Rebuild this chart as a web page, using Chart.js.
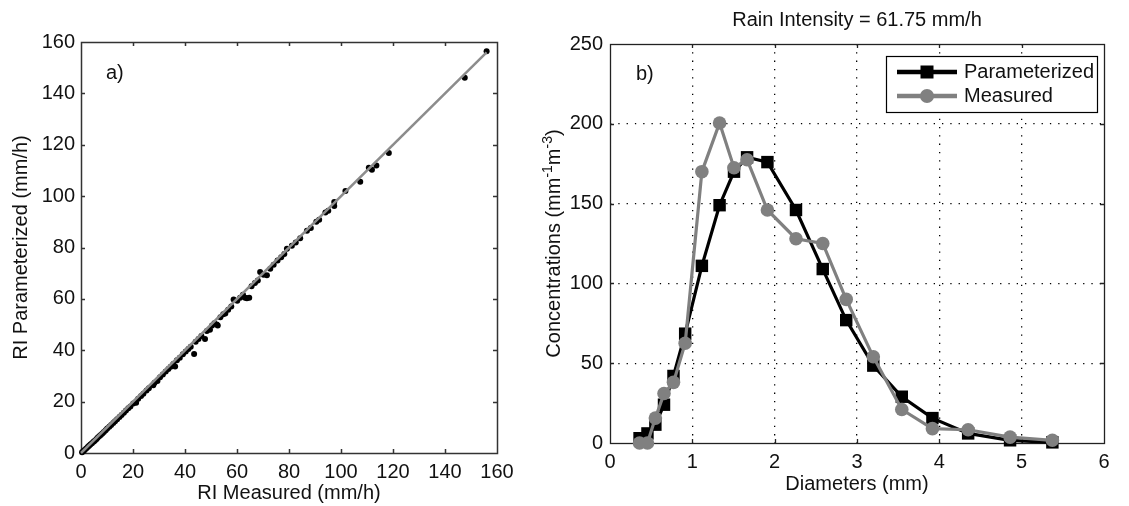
<!DOCTYPE html>
<html>
<head>
<meta charset="utf-8">
<script src="https://cdn.jsdelivr.net/npm/chart.js@4.4.1/dist/chart.umd.min.js"></script>
<style>
  html, body { margin: 0; padding: 0; background: #fff; overflow: hidden; }
  #wrap { position: relative; width: 1129px; height: 506px; }
  canvas { position: absolute; top: 0; }
  #panelA { left: 0; }
  #panelB { left: 530px; }
</style>
</head>
<body>
<div id="wrap">
  <canvas id="panelA" width="530" height="506"></canvas>
  <canvas id="panelB" width="599" height="506"></canvas>
</div>
<script>
// ---- Panel a: rain intensity, measured vs parameterized (mm/h) ----
const riMeasured = [
  0.4, 0.9, 1.4, 2.0, 2.6, 3.1, 3.6, 4.2, 4.8, 5.3, 5.9, 6.4, 7.0, 7.6, 8.2, 8.8,
  9.5, 10.1, 10.9, 11.6, 12.4, 13.1, 13.9, 14.8, 15.6, 16.5, 17.3, 18.2, 19.0, 20.1,
  21.2, 22.0, 23.1, 24.0, 25.2, 26.1, 27.8, 28.3, 29.4, 30.4, 31.5, 32.6, 33.6, 34.5,
  35.5, 36.2, 36.9, 38.0, 39.2, 40.3, 41.3, 42.2, 43.5, 44.1, 45.2, 46.3, 47.7, 48.4,
  49.6, 50.4, 51.3, 52.2, 52.6, 53.6, 54.7, 55.5, 56.6, 57.8, 58.7, 60.1, 61.2, 62.3,
  63.1, 63.8, 64.7, 65.6, 66.9, 68.0, 68.9, 70.2, 71.5, 72.8, 74.1, 75.6, 77.0, 78.2,
  79.2, 81.1, 82.6, 84.3, 86.9, 88.4, 90.5, 91.6, 94.0, 95.1, 97.4, 97.4, 101.7, 107.4,
  110.7, 111.9, 113.6, 118.4, 147.6, 156.0
];
const riParameterized = [
  0.3, 0.7, 1.2, 1.8, 2.3, 2.8, 3.3, 3.8, 4.4, 4.8, 5.4, 5.9, 6.5, 7.0, 7.6, 8.2,
  8.9, 9.5, 10.2, 10.9, 11.7, 12.4, 13.1, 14.0, 14.8, 15.7, 16.5, 17.4, 18.1, 19.3,
  19.6, 21.1, 22.2, 23.1, 24.3, 25.2, 26.4, 27.3, 28.0, 29.5, 30.6, 31.7, 32.7, 33.6,
  34.6, 33.7, 36.1, 37.1, 38.4, 39.5, 40.5, 41.4, 38.5, 43.3, 44.4, 45.5, 44.4, 47.5,
  48.0, 49.6, 50.5, 50.0, 49.6, 52.8, 54.0, 54.3, 55.8, 57.0, 59.8, 59.3, 60.4, 61.6,
  60.4, 60.2, 60.4, 64.9, 66.2, 67.2, 70.5, 69.4, 69.2, 71.7, 73.3, 74.9, 76.2, 77.5,
  79.5, 80.7, 81.9, 83.6, 86.5, 87.6, 90.0, 90.8, 93.6, 94.3, 96.2, 97.7, 102.0, 105.6,
  111.0, 110.3, 111.9, 116.8, 146.1, 156.4
];
// 1:1 reference line end points
const oneToOne = [0, 156];
const riTicks = [0, 20, 40, 60, 80, 100, 120, 140, 160];

// ---- Panel b: drop size distribution (Joss-Waldvogel classes) ----
const diameters = [0.359, 0.455, 0.551, 0.656, 0.771, 0.913, 1.116, 1.331, 1.506, 1.665,
                   1.912, 2.259, 2.584, 2.869, 3.198, 3.544, 3.916, 4.350, 4.859, 5.373];
const concParameterized = [3, 6, 11.5, 24, 42, 68.5, 111, 149, 170, 179,
                           176, 146, 109, 77, 48.5, 29, 15.6, 6, 1.7, 0.4];
const concMeasured = [0, 0, 15.6, 31, 38, 62.5, 170, 200.5, 172.5, 177.5,
                      146, 128, 125, 90, 54, 21, 9, 8.3, 3.7, 1.7];
const diameterTicks = [0, 1, 2, 3, 4, 5, 6];
const concTicks = [0, 50, 100, 150, 200, 250];
const rainIntensity = 61.75;

const FONT = "'Liberation Sans', Arial, Helvetica, sans-serif";
Chart.defaults.font.family = FONT;
Chart.defaults.font.size = 20;
Chart.defaults.color = '#111';
Chart.defaults.animation = false;

const toPoints = (xs, ys) => xs.map((v, i) => ({ x: v, y: ys[i] }));
const first = arr => arr[0];
const last = arr => arr[arr.length - 1];

// Axes box with inward tick marks on all four sides
const framePlugin = {
  id: 'frame',
  beforeDatasetsDraw(chart, args, o) {
    const { ctx, chartArea: a, scales: { x, y } } = chart;
    ctx.save();
    ctx.strokeStyle = o.color || '#333';
    ctx.lineWidth = o.width || 1.5;
    ctx.beginPath();
    x.ticks.forEach(t => {
      const px = Math.round(x.getPixelForValue(t.value)) + 0.5;
      if (t.value === x.min || t.value === x.max) return;
      ctx.moveTo(px, a.bottom); ctx.lineTo(px, a.bottom - o.len);
      ctx.moveTo(px, a.top); ctx.lineTo(px, a.top + o.len);
    });
    y.ticks.forEach(t => {
      const py = Math.round(y.getPixelForValue(t.value)) + 0.5;
      if (t.value === y.min || t.value === y.max) return;
      ctx.moveTo(a.left, py); ctx.lineTo(a.left + o.len, py);
      ctx.moveTo(a.right, py); ctx.lineTo(a.right - o.len, py);
    });
    ctx.stroke();
    ctx.strokeRect(Math.round(a.left) + 0.5, Math.round(a.top) + 0.5,
                   Math.round(a.right - a.left), Math.round(a.bottom - a.top));
    ctx.restore();
  }
};

// Panel letter, title, legend and superscripted axis title
const annotatePlugin = {
  id: 'annotate',
  afterDraw(chart, args, o) {
    const { ctx, chartArea: a } = chart;
    ctx.save();
    ctx.fillStyle = '#111';
    ctx.font = '20px ' + FONT;
    ctx.textBaseline = 'middle';
    if (o.panel) {
      ctx.textAlign = 'left';
      ctx.fillText(o.panel, a.left + o.panelDx, a.top + o.panelDy);
    }
    if (o.title) {
      ctx.textAlign = 'center';
      ctx.fillText(o.title, (a.left + a.right) / 2, o.titleY);
    }
    if (o.yTitleParts) {
      ctx.save();
      ctx.translate(o.yTitleX, (a.top + a.bottom) / 2);
      ctx.rotate(-Math.PI / 2);
      ctx.textAlign = 'left';
      ctx.textBaseline = 'alphabetic';
      let total = 0;
      o.yTitleParts.forEach(p => { ctx.font = p.size + 'px ' + FONT; total += ctx.measureText(p.text).width; });
      let cx = -total / 2;
      o.yTitleParts.forEach(p => {
        ctx.font = p.size + 'px ' + FONT;
        ctx.fillText(p.text, cx, 7 + p.rise);
        cx += ctx.measureText(p.text).width;
      });
      ctx.restore();
    }
    if (o.legend) {
      const L = o.legend;
      ctx.strokeStyle = '#000';
      ctx.lineWidth = 1.2;
      ctx.fillStyle = '#fff';
      ctx.fillRect(L.left, L.top, L.width, L.height);
      ctx.strokeRect(L.left + 0.5, L.top + 0.5, L.width, L.height);
      chart.data.datasets.forEach((ds, i) => {
        const yy = L.top + L.rowFirst + i * L.rowGap;
        ctx.strokeStyle = ds.borderColor;
        ctx.lineWidth = 4.5;
        ctx.beginPath();
        ctx.moveTo(L.left + L.lineStart, yy);
        ctx.lineTo(L.left + L.lineEnd, yy);
        ctx.stroke();
        const mx = L.left + (L.lineStart + L.lineEnd) / 2;
        ctx.fillStyle = ds.backgroundColor;
        if (ds.pointStyle === 'rect') {
          ctx.fillRect(mx - 6.5, yy - 6.5, 13, 13);
        } else {
          ctx.beginPath(); ctx.arc(mx, yy, 7, 0, Math.PI * 2); ctx.fill();
        }
        ctx.fillStyle = '#111';
        ctx.font = '20px ' + FONT;
        ctx.textAlign = 'left';
        ctx.textBaseline = 'middle';
        ctx.fillText(ds.label, L.left + L.textX, yy);
      });
    }
    ctx.restore();
  }
};

// ---------- Panel a ----------
new Chart(document.getElementById('panelA'), {
  type: 'scatter',
  data: {
    datasets: [
      {
        label: '1:1',
        data: toPoints(oneToOne, oneToOne),
        showLine: true,
        borderColor: '#8c8c8c',
        borderWidth: 2.5,
        pointRadius: 0,
        clip: false,
        order: 1
      },
      {
        label: 'RI',
        data: toPoints(riMeasured, riParameterized),
        backgroundColor: '#000',
        borderColor: '#000',
        pointRadius: 3,
        pointBorderWidth: 0,
        clip: false,
        order: 2
      }
    ]
  },
  options: {
    responsive: false,
    devicePixelRatio: 1,
    animation: false,
    events: [],
    layout: { padding: { top: 42, right: 33, left: 0, bottom: 0 } },
    plugins: {
      legend: { display: false },
      tooltip: { enabled: false },
      frame: { len: 4, color: '#333', width: 1.5 },
      annotate: { panel: 'a)', panelDx: 25, panelDy: 31 }
    },
    scales: {
      x: {
        type: 'linear', min: first(riTicks), max: last(riTicks),
        ticks: { stepSize: riTicks[1] - riTicks[0], autoSkip: false, maxRotation: 0, padding: 7 },
        grid: { display: false, drawTicks: false },
        border: { display: false },
        title: { display: true, text: 'RI Measured (mm/h)', padding: { top: 0, bottom: 1 } },
        afterFit: s => { s.height = 53; }
      },
      y: {
        type: 'linear', min: first(riTicks), max: last(riTicks),
        ticks: { stepSize: riTicks[1] - riTicks[0], autoSkip: false, padding: 6 },
        grid: { display: false, drawTicks: false },
        border: { display: false },
        title: { display: true, text: 'RI Parameterized (mm/h)', padding: { top: 9, bottom: 0 } },
        afterFit: s => { s.width = 81; }
      }
    }
  },
  plugins: [framePlugin, annotatePlugin]
});

// ---------- Panel b ----------
const dottedGrid = (lo, hi) => c =>
  (c.tick && (c.tick.value === lo || c.tick.value === hi)) ? 'rgba(0,0,0,0)' : '#000';

new Chart(document.getElementById('panelB'), {
  type: 'line',
  data: {
    datasets: [
      {
        label: 'Parameterized',
        data: toPoints(diameters, concParameterized),
        borderColor: '#000',
        backgroundColor: '#000',
        borderWidth: 3.2,
        pointStyle: 'rect',
        pointRadius: 8.8,
        pointBorderWidth: 0,
        tension: 0,
        clip: false,
        order: 2
      },
      {
        label: 'Measured',
        data: toPoints(diameters, concMeasured),
        borderColor: '#808080',
        backgroundColor: '#808080',
        borderWidth: 3.2,
        pointStyle: 'circle',
        pointRadius: 6.8,
        pointBorderWidth: 0,
        tension: 0,
        clip: false,
        order: 1
      }
    ]
  },
  options: {
    responsive: false,
    devicePixelRatio: 1,
    animation: false,
    events: [],
    layout: { padding: { top: 44, right: 25, left: 0, bottom: 0 } },
    plugins: {
      legend: { display: false },
      tooltip: { enabled: false },
      frame: { len: 4, color: '#222', width: 1.3 },
      annotate: {
        panel: 'b)', panelDx: 26, panelDy: 30,
        title: 'Rain Intensity = ' + rainIntensity.toFixed(2) + ' mm/h',
        titleY: 20,
        yTitleX: 23,
        yTitleParts: [
          { text: 'Concentrations (mm', size: 20, rise: 0 },
          { text: '-1', size: 14, rise: -8 },
          { text: 'm', size: 20, rise: 0 },
          { text: '-3', size: 14, rise: -8 },
          { text: ')', size: 20, rise: 0 }
        ],
        legend: {
          left: 356, top: 56, width: 211, height: 56,
          rowFirst: 16, rowGap: 24,
          lineStart: 11, lineEnd: 71, textX: 78
        }
      }
    },
    scales: {
      x: {
        type: 'linear', min: first(diameterTicks), max: last(diameterTicks),
        ticks: { stepSize: 1, autoSkip: false, maxRotation: 0, padding: 7 },
        grid: { color: dottedGrid(first(diameterTicks), last(diameterTicks)), lineWidth: 1.3, drawTicks: false },
        border: { display: false, dash: [1.3, 7] },
        title: { display: true, text: 'Diameters (mm)', padding: { top: 0, bottom: 10 } },
        afterFit: s => { s.height = 63; }
      },
      y: {
        type: 'linear', min: first(concTicks), max: last(concTicks),
        ticks: { stepSize: 50, autoSkip: false, padding: 7 },
        grid: { color: dottedGrid(first(concTicks), last(concTicks)), lineWidth: 1.3, drawTicks: false },
        border: { display: false, dash: [1.3, 7] },
        title: { display: false },
        afterFit: s => { s.width = 80; }
      }
    }
  },
  plugins: [framePlugin, annotatePlugin]
});
</script>
</body>
</html>
